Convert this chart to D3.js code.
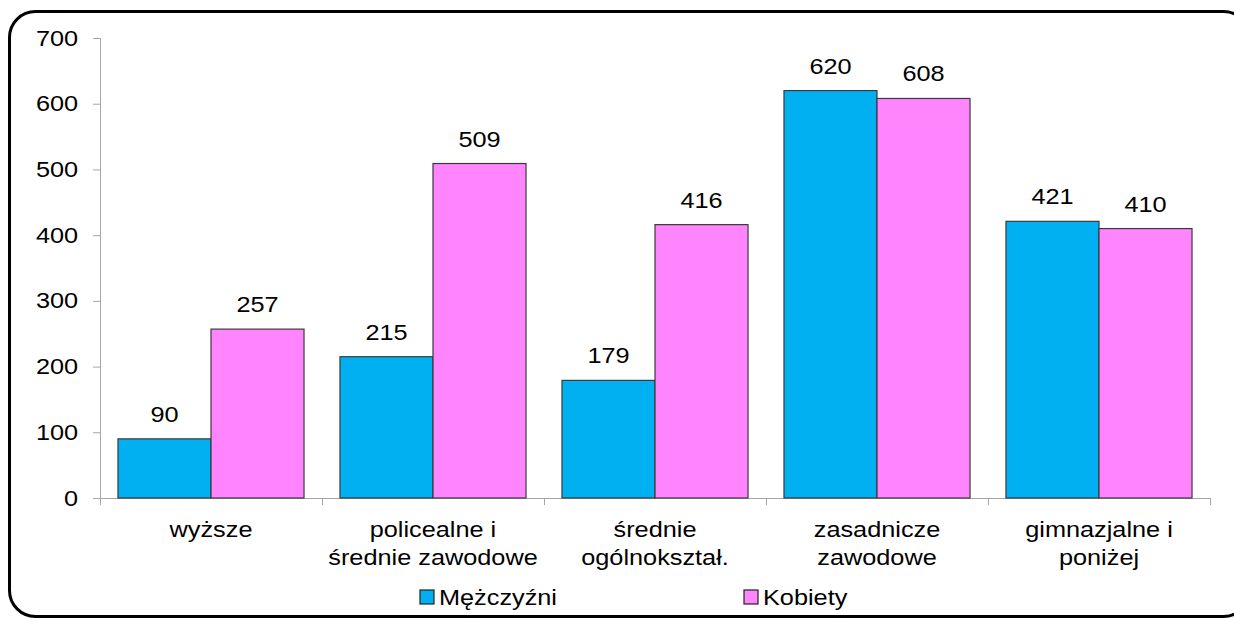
<!DOCTYPE html>
<html lang="pl">
<head>
<meta charset="UTF-8">
<title>Mężczyźni i kobiety wg wykształcenia</title>
<script src="https://d3js.org/d3.v7.min.js"></script>
<style>
    body { margin: 0; background: #fff; font-family: "Liberation Sans", Arial, sans-serif; }
    svg { display: block; }
    .axis path, .axis line { stroke: #a6a6a6; }
    .axis text { font-size: 22px; fill: #000; font-family: "Liberation Sans", Arial, sans-serif; }
    .cat-label { font-size: 22px; fill: #000; text-anchor: middle; }
    .value-label { font-size: 22px; fill: #000; text-anchor: middle; }
    .legend-text { font-size: 22px; fill: #000; }
</style>
</head>
<body>
<svg id="chart" width="1234" height="621"></svg>
<script>
    const categories = [
        ["wyższe"],
        ["policealne i", "średnie zawodowe"],
        ["średnie", "ogólnokształ."],
        ["zasadnicze", "zawodowe"],
        ["gimnazjalne i", "poniżej"]
    ];
    const seriesNames = ["Mężczyźni", "Kobiety"];
    const men = [90, 215, 179, 620, 421];
    const women = [257, 509, 416, 608, 410];
    const yTicks = [0, 100, 200, 300, 400, 500, 600, 700];
    const colors = ["#00b0f0", "#ff85ff"];

    // the original text looks horizontally stretched
    const sx = 1.15;

    const svg = d3.select("#chart");
    const margin = { left: 100, right: 24, top: 38, bottom: 123 };
    const plotW = 1234 - margin.left - margin.right;
    const plotH = 621 - margin.top - margin.bottom;

    // rounded frame around the chart
    svg.append("rect")
        .attr("x", 9.5).attr("y", 11.5)
        .attr("width", 1240).attr("height", 605)
        .attr("rx", 26).attr("ry", 26)
        .attr("fill", "none")
        .attr("stroke", "#000")
        .attr("stroke-width", 3);

    const g = svg.append("g").attr("transform", `translate(${margin.left},${margin.top})`);

    const x0 = d3.scaleBand().domain(d3.range(categories.length)).range([0, plotW]).paddingInner(0.162).paddingOuter(0.081);
    const x1 = d3.scaleBand().domain([0, 1]).range([0, x0.bandwidth()]);
    const y = d3.scaleLinear().domain([0, 700]).range([plotH, 0]);

    // y axis
    g.append("g")
        .attr("class", "axis")
        .call(d3.axisLeft(y).tickValues(yTicks).tickSize(7).tickPadding(12).tickSizeOuter(0))
        .call(a => a.select(".domain").attr("d", `M0.5,0V${plotH}`))
        .call(a => a.selectAll(".tick text").attr("transform", `scale(${sx},1)`));

    // x axis with ticks at category boundaries
    const step = plotW / categories.length;
    const xb = d3.scaleLinear().domain([0, categories.length]).range([0, plotW]);
    g.append("g")
        .attr("class", "axis")
        .attr("transform", `translate(0,${plotH})`)
        .call(d3.axisBottom(xb).tickValues(d3.range(categories.length + 1)).tickSize(7).tickFormat("").tickSizeOuter(0));

    const data = categories.map((c, i) => ({ i, vals: [men[i], women[i]] }));

    const groups = g.selectAll(".grp")
        .data(data)
        .join("g")
        .attr("class", "grp")
        .attr("transform", d => `translate(${x0(d.i)},0)`);

    groups.selectAll("rect")
        .data(d => d.vals.map((v, s) => ({ v, s })))
        .join("rect")
        .attr("x", d => x1(d.s))
        .attr("y", d => y(d.v))
        .attr("width", x1.bandwidth())
        .attr("height", d => plotH - y(d.v))
        .attr("fill", d => colors[d.s])
        .attr("stroke", "#3a3a3a")
        .attr("stroke-width", 1.2);

    groups.selectAll(".value-label")
        .data(d => d.vals.map((v, s) => ({ v, s })))
        .join("text")
        .attr("class", "value-label")
        .attr("transform", d => `translate(${x1(d.s) + x1.bandwidth() / 2},${y(d.v) - 17}) scale(${sx},1)`)
        .text(d => d.v);

    // category labels
    g.selectAll(".cat-label")
        .data(categories)
        .join("text")
        .attr("class", "cat-label")
        .attr("transform", (d, i) => `translate(${(i + 0.5) * step},${plotH + 39}) scale(${sx},1)`)
        .selectAll("tspan")
        .data(d => d)
        .join("tspan")
        .attr("x", 0)
        .attr("dy", (d, j) => j === 0 ? 0 : 28)
        .text(d => d);

    // legend
    const legendX = [420, 744];
    const legend = svg.selectAll(".legend")
        .data(seriesNames)
        .join("g")
        .attr("class", "legend")
        .attr("transform", (d, i) => `translate(${legendX[i]},590)`);
    legend.append("rect")
        .attr("width", 14).attr("height", 14)
        .attr("fill", (d, i) => colors[i])
        .attr("stroke", "#222").attr("stroke-width", 1.2);
    legend.append("text")
        .attr("class", "legend-text")
        .attr("transform", `translate(19,15) scale(${sx},1)`)
        .text(d => d);
</script>
</body>
</html>
